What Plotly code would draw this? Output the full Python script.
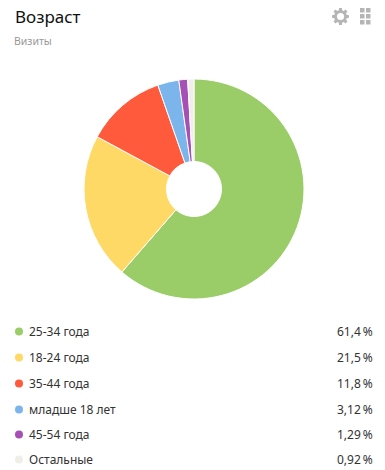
import math
import plotly.graph_objects as go

categories = ["25-34 года", "18-24 года", "35-44 года", "младше 18 лет", "45-54 года", "Остальные"]
values = [61.4, 21.5, 11.8, 3.12, 1.29, 0.92]
value_labels = ["61,4\u2009%", "21,5\u2009%", "11,8\u2009%", "3,12\u2009%", "1,29\u2009%", "0,92\u2009%"]
colors = ["#9ACD68", "#FFD966", "#FF5A3C", "#7CB5EC", "#A64FB5", "#F0EEE8"]
title = "Возраст"
subtitle = "Визиты"

W, H = 385, 470
FONT = "Noto Sans"
px = lambda x: x / W
py = lambda y: 1 - y / H

fig = go.Figure(go.Pie(
    labels=categories, values=values, sort=False, direction="clockwise", rotation=0,
    hole=0.25, textinfo="none", hoverinfo="label+percent", showlegend=False,
    marker=dict(colors=colors, line=dict(color="white", width=1)),
    domain=dict(x=[px(84), px(304)], y=[py(299), py(79)]),
))

ann = []
shapes = []
def text(x, y, s, size, color, anchor="left", font=FONT):
    ann.append(dict(x=px(x), y=py(y), xref="paper", yref="paper", text=s, showarrow=False,
                    xanchor=anchor, yanchor="middle", align=anchor, borderpad=0,
                    font=dict(family=font, size=size, color=color)))

text(14, 16, title, 17, "#111111")
text(13, 41, subtitle, 10.5, "#999999")

# settings gear icon
GX, GY, R_OUT, R_IN, R_HOLE, TEETH = 340.5, 16.5, 8.6, 6.4, 3.6, 8
pts = []
for i in range(TEETH):
    base = 2 * math.pi * i / TEETH
    for offs, r in ((-0.26, R_IN), (-0.16, R_OUT), (0.16, R_OUT), (0.26, R_IN)):
        a = base + offs
        pts.append((px(GX + r * math.cos(a)), py(GY + r * math.sin(a))))
gear = "M " + " L ".join(f"{x:.5f},{y:.5f}" for x, y in pts) + " Z"
shapes.append(dict(type="path", xref="paper", yref="paper", path=gear, fillcolor="#b5b5b5", line_width=0))
shapes.append(dict(type="circle", xref="paper", yref="paper", x0=px(GX - R_HOLE), x1=px(GX + R_HOLE),
                   y0=py(GY - R_HOLE), y1=py(GY + R_HOLE), fillcolor="white", line_width=0))

for col in (0, 1):
    for row in (0, 1, 2):
        x0 = 360 + col * 6
        y0 = 8 + row * 6
        shapes.append(dict(type="rect", xref="paper", yref="paper", x0=px(x0), x1=px(x0 + 4.5),
                           y0=py(y0), y1=py(y0 + 4.5), fillcolor="#b5b5b5", line_width=0))

row_y = [331.5, 357.5, 383.5, 409.5, 434.5, 459.5]
for y, c, v, col in zip(row_y, categories, value_labels, colors):
    shapes.append(dict(type="circle", xref="paper", yref="paper", x0=px(15), x1=px(23),
                       y0=py(y - 4), y1=py(y + 4), fillcolor=col, line_width=0))
    text(28, y, c, 12, "#333333")
    text(374, y, v, 12, "#333333", "right")

fig.update_layout(width=W, height=H, margin=dict(l=0, r=0, t=0, b=0), paper_bgcolor="white",
                  plot_bgcolor="white", annotations=ann, shapes=shapes)
fig.write_html("out.html", config=dict(displayModeBar=False),
               post_script="document.body.style.margin='0';document.documentElement.style.overflow='hidden';")
